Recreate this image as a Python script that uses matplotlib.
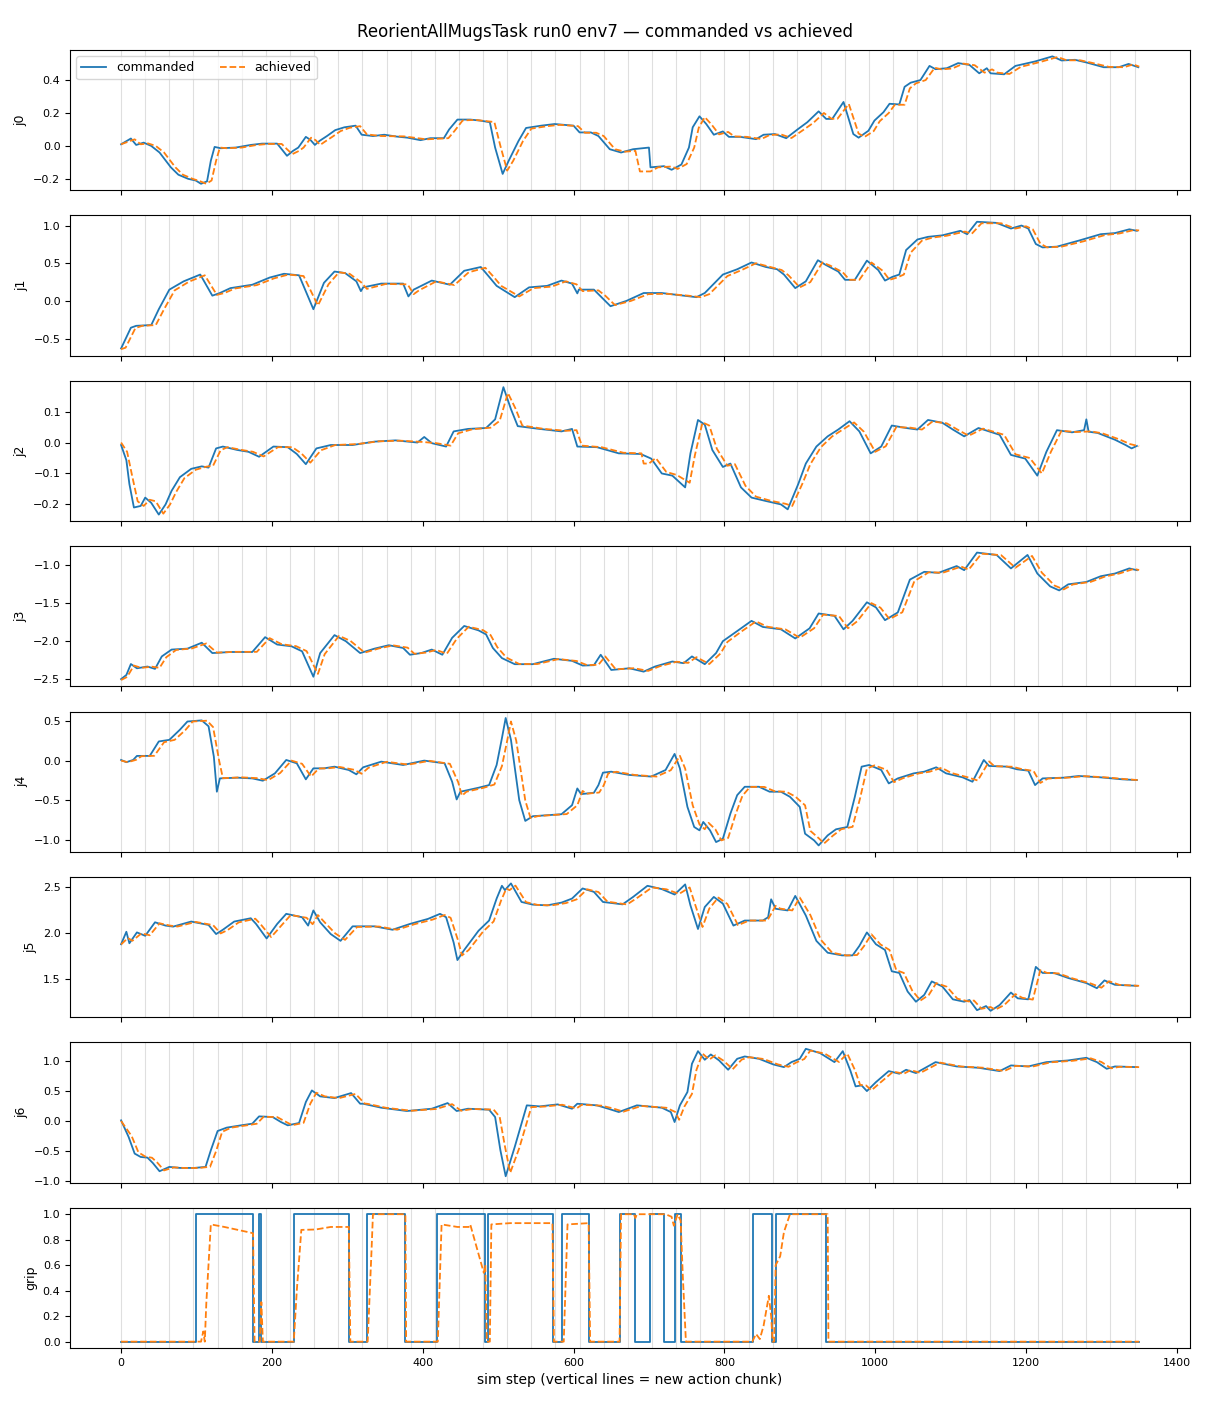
import numpy as np
import matplotlib
matplotlib.use("Agg")
import matplotlib.pyplot as plt

# (sim step, value) pairs
j0_cmd = [(0,0.01),(13,0.045),(20,0.006),(30,0.02),(40,0.0),(51,-0.04),(66,-0.13),(76,-0.175),(89,-0.20),(99,-0.21),(106,-0.23),(114,-0.215),(119,-0.09),(124,-0.006),(132,-0.014),(152,-0.01),(172,0.006),(187,0.014),(207,0.014),(213,-0.02),(220,-0.06),(228,-0.03),(235,-0.01),(245,0.055),(251,0.037),(257,0.006),(263,0.03),(273,0.06),(284,0.096),(296,0.113),(311,0.123),(319,0.068),(334,0.06),(349,0.068),(365,0.057),(380,0.05),(397,0.035),(410,0.047),(428,0.047),(435,0.10),(446,0.16),(463,0.16),(476,0.154),(489,0.144),(496,-0.01),(506,-0.17),(514,-0.09),(527,0.03),(537,0.109),(557,0.123),(575,0.133),(600,0.123),(608,0.082),(623,0.082),(633,0.06),(648,-0.02),(663,-0.04),(679,-0.02),(700,-0.01),(702,-0.13),(720,-0.123),(730,-0.145),(743,-0.113),(753,-0.01),(758,0.113),(767,0.18),(776,0.133),(786,0.068),(798,0.088),(806,0.055),(821,0.055),(842,0.041),(852,0.068),(867,0.072),(882,0.047),(897,0.10),(910,0.144),(925,0.21),(935,0.164),(943,0.164),(958,0.267),(971,0.072),(978,0.05),(991,0.092),(999,0.154),(1011,0.205),(1019,0.256),(1032,0.252),(1039,0.359),(1047,0.384),(1060,0.40),(1072,0.486),(1080,0.466),(1095,0.472),(1110,0.503),(1125,0.492),(1138,0.441),(1148,0.472),(1153,0.441),(1171,0.435),(1186,0.486),(1212,0.513),(1235,0.544),(1247,0.519),(1265,0.523),(1280,0.507),(1303,0.478),(1323,0.478),(1336,0.498),(1349,0.478)]
j0_ach = [(0,0.01),(18,0.04),(26,0.01),(36,0.015),(46,0.0),(57,-0.04),(72,-0.13),(82,-0.175),(95,-0.20),(105,-0.215),(113,-0.23),(120,-0.21),(126,-0.09),(131,-0.01),(140,-0.014),(160,-0.01),(180,0.006),(195,0.012),(213,0.012),(220,-0.02),(227,-0.05),(236,-0.03),(242,-0.01),(252,0.05),(258,0.035),(264,0.006),(270,0.025),(280,0.055),(291,0.09),(303,0.11),(317,0.12),(326,0.07),(345,0.06),(375,0.058),(405,0.04),(434,0.047),(442,0.09),(453,0.155),(470,0.158),(495,0.145),(503,0.0),(512,-0.15),(520,-0.09),(533,0.03),(544,0.105),(565,0.12),(582,0.128),(606,0.12),(615,0.08),(630,0.08),(640,0.06),(655,-0.02),(668,-0.035),(682,-0.03),(688,-0.155),(702,-0.155),(712,-0.13),(730,-0.125),(738,-0.14),(750,-0.11),(760,-0.01),(766,0.11),(774,0.175),(783,0.13),(793,0.07),(805,0.085),(813,0.058),(830,0.055),(849,0.042),(860,0.066),(875,0.07),(889,0.048),(904,0.095),(918,0.14),(932,0.2),(942,0.165),(950,0.165),(965,0.255),(978,0.075),(986,0.055),(998,0.09),(1006,0.15),(1018,0.2),(1026,0.25),(1039,0.25),(1046,0.35),(1054,0.38),(1067,0.40),(1079,0.475),(1088,0.465),(1102,0.47),(1117,0.50),(1132,0.49),(1145,0.445),(1155,0.465),(1162,0.445),(1178,0.437),(1193,0.48),(1219,0.51),(1242,0.54),(1254,0.52),(1272,0.52),(1287,0.505),(1310,0.48),(1330,0.478),(1342,0.495),(1350,0.482)]

j1_cmd = [(0,-0.63),(13,-0.355),(20,-0.33),(40,-0.32),(50,-0.11),(64,0.15),(83,0.26),(105,0.35),(121,0.07),(131,0.105),(145,0.17),(174,0.215),(197,0.31),(216,0.36),(236,0.34),(255,-0.11),(269,0.24),(283,0.39),(297,0.37),(312,0.26),(318,0.13),(321,0.18),(345,0.23),(374,0.23),(381,0.06),(388,0.15),(412,0.27),(436,0.215),(455,0.40),(477,0.45),(488,0.32),(498,0.20),(522,0.05),(541,0.18),(565,0.20),(584,0.27),(598,0.23),(605,0.10),(607,0.15),(627,0.15),(636,0.06),(649,-0.07),(670,0.0),(693,0.105),(717,0.105),(746,0.07),(763,0.05),(774,0.105),(798,0.35),(817,0.42),(836,0.51),(855,0.45),(870,0.42),(879,0.35),(894,0.17),(908,0.26),(924,0.54),(934,0.48),(951,0.39),(960,0.28),(973,0.28),(989,0.535),(1004,0.41),(1013,0.27),(1023,0.32),(1032,0.35),(1041,0.675),(1056,0.815),(1070,0.85),(1089,0.87),(1113,0.93),(1122,0.885),(1135,1.05),(1161,1.035),(1180,0.96),(1194,1.0),(1203,0.96),(1213,0.755),(1222,0.71),(1241,0.72),(1270,0.80),(1299,0.885),(1318,0.90),(1337,0.95),(1347,0.93)]
j1_ach = [(0,-0.64),(6,-0.62),(19,-0.36),(28,-0.33),(46,-0.32),(57,-0.11),(71,0.14),(90,0.255),(111,0.34),(127,0.08),(137,0.105),(151,0.165),(180,0.21),(203,0.30),(222,0.35),(242,0.33),(261,-0.06),(275,0.22),(289,0.38),(303,0.36),(318,0.25),(326,0.16),(351,0.225),(380,0.22),(388,0.09),(395,0.14),(418,0.26),(442,0.21),(461,0.38),(483,0.44),(494,0.32),(504,0.20),(528,0.06),(547,0.17),(571,0.19),(590,0.26),(604,0.22),(612,0.13),(633,0.14),(642,0.07),(655,-0.055),(676,0.0),(699,0.09),(723,0.095),(752,0.07),(769,0.05),(780,0.09),(804,0.33),(823,0.41),(842,0.50),(861,0.45),(876,0.41),(885,0.34),(900,0.18),(914,0.25),(930,0.51),(940,0.47),(957,0.38),(966,0.28),(979,0.28),(995,0.51),(1010,0.40),(1019,0.28),(1029,0.31),(1038,0.35),(1047,0.64),(1062,0.80),(1076,0.84),(1095,0.865),(1119,0.92),(1128,0.89),(1141,1.03),(1167,1.03),(1186,0.96),(1200,0.99),(1209,0.95),(1219,0.76),(1228,0.71),(1247,0.72),(1276,0.79),(1305,0.875),(1324,0.895),(1343,0.94),(1350,0.935)]

j2_cmd = [(0,-0.008),(7,-0.057),(11,-0.134),(17,-0.21),(26,-0.205),(32,-0.178),(40,-0.195),(50,-0.233),(59,-0.20),(67,-0.156),(78,-0.112),(93,-0.085),(107,-0.077),(116,-0.081),(126,-0.019),(135,-0.013),(154,-0.024),(169,-0.03),(183,-0.046),(202,-0.013),(221,-0.015),(233,-0.037),(245,-0.07),(259,-0.019),(278,-0.008),(307,-0.008),(336,0.003),(364,0.007),(393,0.0),(402,0.018),(412,-0.002),(431,-0.013),(441,0.036),(460,0.044),(484,0.047),(496,0.075),(507,0.179),(517,0.108),(526,0.053),(555,0.044),(584,0.036),(598,0.044),(605,-0.013),(631,-0.015),(660,-0.035),(689,-0.037),(703,-0.052),(717,-0.10),(731,-0.107),(748,-0.145),(755,-0.035),(765,0.073),(774,0.058),(784,-0.024),(798,-0.079),(808,-0.068),(822,-0.145),(836,-0.178),(855,-0.189),(875,-0.20),(884,-0.216),(898,-0.134),(908,-0.068),(922,-0.013),(937,0.02),(951,0.042),(966,0.069),(979,0.036),(994,-0.035),(1008,-0.013),(1022,0.055),(1041,0.047),(1056,0.042),(1070,0.073),(1089,0.064),(1103,0.042),(1118,0.02),(1137,0.047),(1151,0.036),(1165,0.025),(1180,-0.04),(1199,-0.052),(1215,-0.107),(1227,-0.03),(1241,0.04),(1261,0.033),(1277,0.04),(1280,0.075),(1283,0.035),(1295,0.031),(1318,0.009),(1332,-0.008),(1340,-0.019),(1347,-0.011)]
j2_ach = [(0,0.0),(8,-0.03),(14,-0.10),(22,-0.19),(30,-0.205),(38,-0.185),(46,-0.19),(56,-0.23),(65,-0.20),(73,-0.16),(84,-0.115),(99,-0.088),(113,-0.078),(122,-0.075),(132,-0.025),(141,-0.015),(160,-0.024),(175,-0.03),(189,-0.045),(208,-0.015),(227,-0.015),(239,-0.035),(251,-0.065),(265,-0.025),(284,-0.008),(313,-0.005),(342,0.004),(370,0.006),(399,0.002),(418,-0.002),(437,-0.01),(447,0.03),(466,0.043),(490,0.048),(502,0.07),(513,0.16),(523,0.11),(532,0.055),(561,0.044),(590,0.038),(604,0.04),(611,-0.01),(637,-0.015),(666,-0.033),(690,-0.035),(693,-0.068),(700,-0.068),(709,-0.05),(723,-0.095),(737,-0.105),(754,-0.13),(761,-0.04),(771,0.065),(780,0.055),(790,-0.02),(804,-0.075),(814,-0.07),(828,-0.14),(842,-0.175),(861,-0.188),(881,-0.198),(890,-0.205),(904,-0.13),(914,-0.07),(928,-0.015),(943,0.02),(957,0.042),(972,0.065),(985,0.035),(1000,-0.03),(1014,-0.012),(1028,0.05),(1047,0.048),(1062,0.042),(1076,0.068),(1095,0.062),(1109,0.042),(1124,0.022),(1143,0.045),(1157,0.035),(1171,0.025),(1186,-0.038),(1205,-0.05),(1221,-0.1),(1233,-0.03),(1247,0.038),(1267,0.034),(1286,0.036),(1301,0.03),(1324,0.01),(1338,-0.005),(1350,-0.012)]

j3_cmd = [(0,-2.498),(7,-2.444),(13,-2.30),(21,-2.356),(35,-2.333),(45,-2.364),(54,-2.20),(67,-2.11),(88,-2.098),(107,-2.02),(121,-2.156),(145,-2.142),(174,-2.142),(191,-1.947),(207,-2.044),(226,-2.067),(240,-2.133),(255,-2.467),(264,-2.156),(283,-1.92),(298,-2.0),(317,-2.156),(336,-2.098),(355,-2.053),(374,-2.089),(383,-2.178),(398,-2.156),(412,-2.11),(426,-2.178),(439,-1.956),(455,-1.80),(474,-1.858),(484,-1.911),(493,-2.089),(505,-2.222),(522,-2.302),(546,-2.302),(574,-2.231),(598,-2.258),(612,-2.32),(627,-2.315),(636,-2.178),(650,-2.378),(674,-2.356),(693,-2.40),(708,-2.333),(731,-2.267),(746,-2.289),(757,-2.20),(774,-2.302),(789,-2.156),(798,-2.0),(817,-1.867),(836,-1.733),(851,-1.813),(875,-1.844),(894,-1.964),(913,-1.831),(925,-1.636),(946,-1.667),(958,-1.844),(970,-1.733),(989,-1.489),(1001,-1.556),(1013,-1.724),(1030,-1.622),(1046,-1.191),(1065,-1.089),(1084,-1.102),(1108,-1.013),(1118,-1.067),(1135,-0.836),(1161,-0.867),(1180,-1.044),(1202,-0.867),(1215,-1.111),(1232,-1.28),(1244,-1.333),(1256,-1.253),(1280,-1.222),(1299,-1.147),(1318,-1.111),(1337,-1.044),(1347,-1.067)]
j3_ach = [(0,-2.51),(8,-2.47),(17,-2.32),(27,-2.35),(41,-2.335),(51,-2.35),(60,-2.21),(73,-2.115),(94,-2.095),(113,-2.03),(127,-2.15),(151,-2.14),(180,-2.14),(197,-1.96),(213,-2.04),(232,-2.065),(246,-2.13),(261,-2.43),(270,-2.17),(289,-1.93),(304,-1.995),(323,-2.15),(342,-2.095),(361,-2.055),(380,-2.085),(389,-2.165),(404,-2.15),(418,-2.115),(432,-2.165),(445,-1.97),(461,-1.81),(480,-1.855),(490,-1.92),(499,-2.08),(511,-2.215),(528,-2.30),(552,-2.30),(580,-2.235),(604,-2.26),(618,-2.315),(633,-2.31),(642,-2.2),(656,-2.37),(680,-2.355),(699,-2.39),(714,-2.33),(737,-2.27),(752,-2.285),(763,-2.21),(780,-2.3),(795,-2.16),(804,-2.01),(823,-1.87),(842,-1.74),(857,-1.81),(881,-1.845),(900,-1.955),(919,-1.83),(931,-1.65),(952,-1.67),(964,-1.83),(976,-1.74),(995,-1.5),(1007,-1.56),(1019,-1.71),(1036,-1.62),(1052,-1.21),(1071,-1.095),(1090,-1.10),(1114,-1.02),(1124,-1.06),(1141,-0.85),(1167,-0.87),(1186,-1.035),(1208,-0.88),(1221,-1.10),(1238,-1.27),(1250,-1.32),(1262,-1.255),(1286,-1.22),(1305,-1.15),(1324,-1.11),(1343,-1.05),(1350,-1.065)]

j4_cmd = [(0,0.008),(7,-0.02),(16,0.008),(21,0.059),(38,0.059),(50,0.24),(64,0.26),(78,0.387),(88,0.49),(107,0.504),(116,0.43),(123,0.05),(127,-0.39),(131,-0.223),(154,-0.214),(174,-0.223),(188,-0.252),(204,-0.16),(219,0.008),(233,-0.034),(245,-0.235),(255,-0.097),(269,-0.097),(283,-0.076),(302,-0.118),(312,-0.172),(321,-0.084),(345,-0.013),(374,-0.055),(402,0.0),(429,-0.034),(439,-0.265),(445,-0.487),(450,-0.39),(474,-0.34),(488,-0.307),(498,-0.055),(505,0.28),(510,0.534),(517,0.26),(528,-0.496),(536,-0.756),(546,-0.697),(584,-0.672),(598,-0.559),(605,-0.349),(610,-0.42),(627,-0.403),(633,-0.307),(639,-0.151),(650,-0.139),(674,-0.18),(703,-0.20),(722,-0.118),(734,0.084),(741,-0.097),(751,-0.58),(760,-0.832),(767,-0.874),(772,-0.769),(781,-0.874),(789,-1.021),(798,-0.979),(808,-0.664),(817,-0.433),(827,-0.328),(846,-0.328),(860,-0.39),(875,-0.39),(887,-0.454),(900,-0.58),(907,-0.916),(919,-1.0),(925,-1.063),(937,-0.937),(948,-0.861),(963,-0.832),(973,-0.454),(982,-0.076),(992,-0.055),(1008,-0.118),(1018,-0.286),(1030,-0.223),(1051,-0.16),(1065,-0.139),(1081,-0.084),(1094,-0.16),(1116,-0.21),(1129,-0.265),(1144,0.008),(1151,-0.067),(1175,-0.076),(1188,-0.109),(1203,-0.126),(1212,-0.307),(1222,-0.223),(1250,-0.214),(1270,-0.193),(1299,-0.21),(1328,-0.235),(1347,-0.244)]
j4_ach = [(0,0.0),(9,-0.02),(20,0.01),(27,0.055),(44,0.06),(57,0.23),(71,0.26),(85,0.38),(95,0.49),(114,0.5),(122,0.42),(130,0.0),(135,-0.22),(160,-0.21),(181,-0.22),(195,-0.245),(211,-0.155),(226,0.0),(240,-0.04),(252,-0.2),(262,-0.1),(276,-0.095),(290,-0.08),(309,-0.115),(319,-0.165),(328,-0.09),(352,-0.015),(381,-0.05),(409,-0.003),(436,-0.04),(447,-0.27),(452,-0.44),(458,-0.39),(481,-0.34),(495,-0.3),(505,-0.07),(512,0.25),(517,0.49),(524,0.25),(536,-0.5),(543,-0.72),(553,-0.695),(591,-0.67),(605,-0.56),(612,-0.38),(617,-0.415),(634,-0.4),(640,-0.31),(646,-0.16),(657,-0.14),(681,-0.18),(710,-0.2),(729,-0.12),(741,0.06),(748,-0.1),(758,-0.56),(767,-0.8),(774,-0.86),(779,-0.78),(788,-0.86),(796,-1.0),(805,-0.97),(815,-0.67),(824,-0.44),(834,-0.33),(853,-0.33),(867,-0.385),(882,-0.39),(894,-0.45),(907,-0.56),(914,-0.88),(926,-0.98),(932,-1.04),(944,-0.94),(955,-0.86),(970,-0.83),(980,-0.47),(989,-0.1),(999,-0.06),(1015,-0.115),(1025,-0.27),(1037,-0.22),(1058,-0.16),(1072,-0.14),(1088,-0.09),(1101,-0.155),(1123,-0.21),(1136,-0.25),(1151,-0.01),(1158,-0.07),(1182,-0.077),(1195,-0.108),(1210,-0.13),(1219,-0.28),(1229,-0.225),(1257,-0.213),(1277,-0.195),(1306,-0.21),(1335,-0.235),(1350,-0.245)]

j5_cmd = [(0,1.882),(7,2.018),(11,1.893),(21,2.011),(32,1.974),(45,2.121),(59,2.085),(69,2.074),(93,2.129),(116,2.092),(126,1.993),(135,2.04),(150,2.129),(172,2.165),(179,2.103),(193,1.945),(207,2.103),(219,2.213),(240,2.176),(248,2.085),(255,2.25),(264,2.121),(278,1.993),(291,1.919),(307,2.077),(336,2.077),(360,2.04),(383,2.103),(407,2.158),(423,2.213),(431,2.176),(441,1.901),(446,1.71),(455,1.82),(474,2.029),(488,2.14),(498,2.379),(505,2.518),(509,2.471),(517,2.544),(531,2.342),(546,2.313),(565,2.305),(584,2.335),(598,2.379),(612,2.489),(627,2.452),(639,2.342),(665,2.316),(679,2.397),(698,2.518),(717,2.482),(734,2.423),(748,2.533),(755,2.305),(765,2.048),(774,2.287),(786,2.397),(798,2.324),(812,2.085),(827,2.14),(851,2.14),(858,2.176),(862,2.371),(868,2.268),(884,2.25),(894,2.408),(908,2.195),(922,1.919),(937,1.79),(956,1.761),(970,1.761),(979,1.864),(989,2.011),(1001,1.882),(1013,1.82),(1022,1.588),(1032,1.57),(1043,1.368),(1054,1.257),(1065,1.331),(1075,1.478),(1089,1.423),(1103,1.283),(1118,1.257),(1125,1.276),(1135,1.165),(1147,1.21),(1153,1.158),(1165,1.221),(1180,1.357),(1189,1.294),(1203,1.283),(1213,1.636),(1222,1.57),(1237,1.57),(1256,1.515),(1280,1.46),(1294,1.404),(1304,1.489),(1318,1.441),(1347,1.43)]
j5_ach = [(0,1.88),(9,1.95),(15,1.92),(27,2.0),(38,1.98),(51,2.11),(65,2.085),(75,2.075),(99,2.125),(122,2.09),(132,2.0),(141,2.035),(156,2.12),(178,2.16),(185,2.1),(199,1.96),(213,2.09),(225,2.2),(246,2.17),(254,2.1),(261,2.2),(270,2.12),(284,2.0),(297,1.93),(313,2.07),(342,2.075),(366,2.04),(389,2.1),(413,2.15),(429,2.2),(437,2.17),(447,1.92),(452,1.76),(461,1.82),(480,2.02),(494,2.13),(504,2.36),(511,2.49),(515,2.47),(523,2.52),(537,2.34),(552,2.31),(571,2.305),(590,2.33),(604,2.37),(618,2.48),(633,2.45),(645,2.345),(671,2.315),(685,2.39),(704,2.5),(723,2.48),(740,2.43),(754,2.5),(761,2.32),(771,2.07),(780,2.27),(792,2.39),(804,2.32),(818,2.09),(833,2.14),(857,2.14),(868,2.3),(874,2.27),(890,2.25),(900,2.39),(914,2.2),(928,1.93),(943,1.79),(962,1.76),(976,1.765),(985,1.86),(995,1.99),(1007,1.88),(1019,1.82),(1028,1.6),(1038,1.57),(1049,1.38),(1060,1.27),(1071,1.33),(1081,1.46),(1095,1.42),(1109,1.29),(1124,1.26),(1131,1.27),(1141,1.18),(1153,1.2),(1159,1.17),(1171,1.22),(1186,1.34),(1195,1.3),(1209,1.28),(1219,1.6),(1228,1.57),(1243,1.565),(1262,1.51),(1286,1.455),(1300,1.41),(1310,1.48),(1324,1.44),(1350,1.43)]

j6_cmd = [(0,0.011),(10,-0.265),(18,-0.541),(26,-0.597),(35,-0.608),(42,-0.696),(51,-0.834),(64,-0.762),(78,-0.779),(97,-0.779),(112,-0.762),(119,-0.486),(128,-0.166),(140,-0.11),(159,-0.072),(174,-0.044),(183,0.077),(201,0.066),(212,-0.017),(221,-0.072),(236,-0.033),(245,0.315),(253,0.508),(264,0.409),(283,0.381),(305,0.464),(317,0.287),(321,0.287),(345,0.221),(379,0.166),(412,0.204),(433,0.298),(445,0.166),(460,0.204),(488,0.188),(496,0.066),(503,-0.486),(510,-0.917),(522,-0.431),(538,0.26),(555,0.243),(579,0.276),(598,0.204),(605,0.287),(631,0.26),(646,0.204),(660,0.149),(684,0.26),(717,0.221),(729,0.149),(734,-0.017),(741,0.26),(751,0.481),(757,0.95),(765,1.16),(774,1.017),(782,1.105),(793,1.006),(805,0.851),(817,1.033),(827,1.072),(846,1.033),(865,0.939),(879,0.895),(889,0.978),(900,1.033),(908,1.199),(927,1.127),(946,0.978),(957,1.16),(967,0.84),(974,0.575),(982,0.591),(989,0.497),(1001,0.646),(1018,0.829),(1032,0.785),(1041,0.851),(1054,0.796),(1080,0.978),(1108,0.906),(1137,0.884),(1165,0.829),(1180,0.923),(1203,0.906),(1227,0.978),(1256,1.006),(1280,1.05),(1294,0.978),(1307,0.867),(1318,0.906),(1347,0.895)]
j6_ach = [(0,0.0),(14,-0.25),(23,-0.52),(32,-0.59),(41,-0.61),(48,-0.69),(57,-0.82),(70,-0.77),(84,-0.78),(103,-0.78),(118,-0.76),(126,-0.5),(134,-0.18),(146,-0.11),(165,-0.075),(180,-0.045),(189,0.07),(207,0.065),(218,-0.01),(227,-0.07),(242,-0.03),(251,0.29),(259,0.47),(270,0.41),(289,0.38),(311,0.45),(323,0.29),(327,0.285),(351,0.22),(385,0.17),(418,0.2),(439,0.28),(451,0.17),(466,0.2),(494,0.19),(502,0.07),(509,-0.42),(516,-0.86),(528,-0.45),(544,0.23),(561,0.24),(585,0.27),(604,0.21),(611,0.27),(637,0.255),(652,0.21),(666,0.155),(690,0.25),(723,0.22),(735,0.15),(740,0.02),(747,0.24),(757,0.45),(763,0.85),(771,1.12),(780,1.02),(788,1.09),(799,1.0),(811,0.86),(823,1.02),(833,1.06),(852,1.03),(871,0.94),(885,0.9),(895,0.97),(906,1.03),(914,1.17),(933,1.12),(952,0.98),(963,1.12),(973,0.85),(980,0.6),(988,0.59),(995,0.51),(1007,0.64),(1024,0.82),(1038,0.785),(1047,0.845),(1060,0.8),(1086,0.97),(1114,0.905),(1143,0.885),(1171,0.83),(1186,0.915),(1209,0.905),(1233,0.975),(1262,1.0),(1286,1.04),(1300,0.98),(1313,0.875),(1324,0.9),(1350,0.895)]

# gripper command: value holds from each step until the next one
grip_cmd = [(0,0),(100,1),(175,0),(183,1),(185,0),(229,1),(302,0),(326,1),(377,0),(419,1),(482,0),(486,1),(573,0),(585,1),(621,0),(661,1),(681,0),(702,1),(720,0),(735,1),(742,0),(838,1),(863,0),(868,1),(935,0),(1350,0)]
grip_ach = [(0,0),(106,0),(109,0.08),(111,0.0),(113,0.3),(119,0.92),(137,0.9),(172,0.855),(175,0.85),(177,0.0),(184,0.0),(186,0.31),(188,0.0),(229,0.0),(233,0.4),(239,0.877),(258,0.88),(278,0.9),(302,0.9),(304,0.0),(327,0.0),(332,0.7),(334,1.0),(377,1.0),(378,0.0),(420,0.0),(425,0.92),(446,0.9),(461,0.9),(463,0.92),(481,0.54),(483,0.6),(485,0.0),(489,0.0),(491,0.92),(516,0.93),(572,0.93),(574,0.0),(587,0.0),(592,0.92),(620,0.93),(622,0.0),(661,0.0),(663,1.0),(680,1.0),(682,0.97),(684,1.0),(722,1.0),(730,0.98),(733,0.91),(738,1.0),(742,0.95),(745,0.5),(749,0.0),(837,0.0),(842,0.06),(847,0.02),(852,0.125),(859,0.36),(862,0.2),(864,0.0),(866,0.0),(868,0.6),(874,0.67),(879,0.86),(887,1.0),(937,1.0),(938,0.0),(1350,0.0)]

joint_names = ["j0", "j1", "j2", "j3", "j4", "j5", "j6", "grip"]
cmd_series = [j0_cmd, j1_cmd, j2_cmd, j3_cmd, j4_cmd, j5_cmd, j6_cmd, grip_cmd]
ach_series = [j0_ach, j1_ach, j2_ach, j3_ach, j4_ach, j5_ach, j6_ach, grip_ach]

chunk_len = 32
n_steps = 1350
chunk_starts = np.arange(0, n_steps, chunk_len)

fig, axes = plt.subplots(8, 1, figsize=(12.1, 14.08), dpi=100, sharex=True)
fig.subplots_adjust(left=0.058, right=0.9835, top=0.9645, bottom=0.0426, hspace=0.18)

for ax, name, cmd, ach in zip(axes, joint_names, cmd_series, ach_series):
    for s in chunk_starts:
        ax.axvline(s, color="0.5", alpha=0.25, lw=0.8, zorder=0)
    cx, cy = zip(*cmd)
    ax_, ay = zip(*ach)
    if name == "grip":
        ax.plot(cx, cy, color="C0", lw=1.3, drawstyle="steps-post", label="commanded")
    else:
        ax.plot(cx, cy, color="C0", lw=1.3, label="commanded")
    ax.plot(ax_, ay, color="C1", lw=1.3, ls="--", label="achieved")
    ax.set_ylabel(name, fontsize=9)
    ax.tick_params(labelsize=8)

axes[0].legend(loc="upper left", ncol=2, fontsize=9)
axes[-1].set_xlabel("sim step (vertical lines = new action chunk)", fontsize=10)
fig.suptitle("ReorientAllMugsTask run0 env7 \u2014 commanded vs achieved", fontsize=12, y=0.984)

fig.savefig("out.png", dpi=100)
